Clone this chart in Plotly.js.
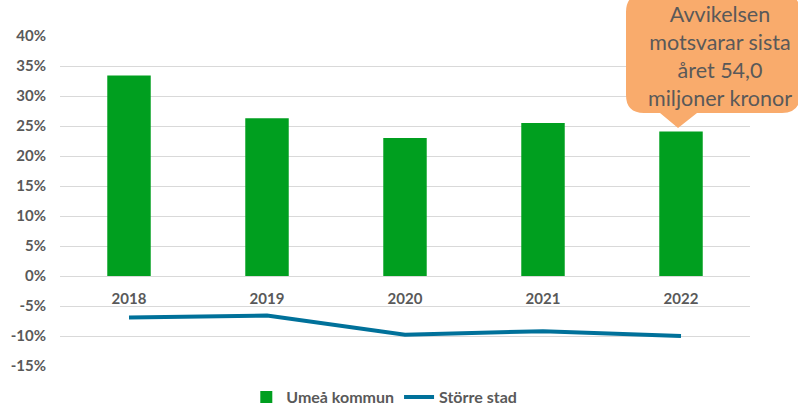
<!DOCTYPE html>
<html>
<head>
<meta charset="utf-8">
<script src="https://cdn.plot.ly/plotly-3.0.1.min.js"></script>
<style>html,body{margin:0;padding:0;background:#fff;}#chart{width:798px;height:405px;}</style>
</head>
<body>
<div id="chart"></div>
<script>
// ---- data ----
var years = ['2018', '2019', '2020', '2021', '2022'];
var umea = [33.4, 26.3, 23.0, 25.5, 24.1];          // Umeå kommun, %
var storreStad = [-6.9, -6.6, -9.8, -9.2, -10.0];    // Större stad, %
var yTickVals = [-15, -10, -5, 0, 5, 10, 15, 20, 25, 30, 35, 40];
var yTickText = ['-15%', '-10%', '-5%', '0%', '5%', '10%', '15%', '20%', '25%', '30%', '35%', '40%'];
var calloutText = 'Avvikelsen<br>motsvarar sista<br>året 54,0<br>miljoner kronor';

// ---- layout geometry ----
var W = 798, H = 405;
var M = {l: 60, r: 48, t: 36, b: 39, autoexpand: false};
var pw = W - M.l - M.r, ph = H - M.t - M.b;
function px(x) { return ((x - M.l) / pw).toFixed(4); }
function py(y) { return ((H - M.b - y) / ph).toFixed(4); }

var yMin = -15, yMax = 40;
var gray = '#595959';
var fontFam = 'Lato, "Open Sans", sans-serif';

// callout shape (rounded box with pointer)
var L = 626, R = 800, T = -6, B = 113, r = 18;
var path = 'M ' + px(L + r) + ' ' + py(T) +
  ' L ' + px(R - r) + ' ' + py(T) +
  ' Q ' + px(R) + ' ' + py(T) + ' ' + px(R) + ' ' + py(T + r) +
  ' L ' + px(R) + ' ' + py(B - r) +
  ' Q ' + px(R) + ' ' + py(B) + ' ' + px(R - r) + ' ' + py(B) +
  ' L ' + px(697) + ' ' + py(B) +
  ' L ' + px(678) + ' ' + py(128) +
  ' L ' + px(660) + ' ' + py(B) +
  ' L ' + px(L + r) + ' ' + py(B) +
  ' Q ' + px(L) + ' ' + py(B) + ' ' + px(L) + ' ' + py(B - r) +
  ' L ' + px(L) + ' ' + py(T + r) +
  ' Q ' + px(L) + ' ' + py(T) + ' ' + px(L + r) + ' ' + py(T) + ' Z';

var traces = [
  {
    type: 'bar', x: years, y: umea, name: 'Umeå kommun',
    marker: {color: '#009F1F'}, hoverinfo: 'skip'
  },
  {
    type: 'scatter', mode: 'lines', x: years, y: storreStad, name: 'Större stad',
    line: {color: '#00719A', width: 4}, hoverinfo: 'skip'
  }
];

var layout = {
  width: W, height: H,
  margin: M,
  paper_bgcolor: '#ffffff', plot_bgcolor: '#ffffff',
  font: {family: fontFam, color: gray, size: 14},
  bargap: 0.685,
  showlegend: true,
  legend: {
    orientation: 'h', x: 0.47, xanchor: 'center',
    xref: 'paper', yref: 'paper', y: +py(397), yanchor: 'middle',
    font: {family: fontFam, size: 16, color: gray, weight: 'bold'},
    traceorder: 'normal', itemwidth: 30
  },
  xaxis: {
    type: 'category', anchor: 'free', position: (0 - yMin) / (yMax - yMin),
    showgrid: false, showline: false, zeroline: false, ticks: '',
    ticklabelstandoff: 12,
    tickfont: {family: fontFam, size: 15, color: gray, weight: 'bold'},
    fixedrange: true
  },
  yaxis: {
    range: [yMin, yMax], tickvals: yTickVals, ticktext: yTickText,
    showgrid: true, gridcolor: '#D9D9D9', gridwidth: 1,
    zeroline: false, showline: false, ticks: '',
    ticklabelstandoff: 13,
    tickfont: {family: fontFam, size: 15, color: gray, weight: 'bold'},
    fixedrange: true
  },
  shapes: [
    {type: 'path', xref: 'paper', yref: 'paper', path: path,
     fillcolor: '#F9AB6C', line: {width: 0}, layer: 'above'}
  ],
  annotations: [
    {xref: 'paper', yref: 'paper', x: +px(720), y: +py(56.5), xanchor: 'center', yanchor: 'middle',
     text: calloutText, showarrow: false, align: 'center',
     font: {family: fontFam, size: 21.5, color: gray}}
  ]
};

Plotly.newPlot('chart', traces, layout, {displayModeBar: false, staticPlot: true});
</script>
</body>
</html>
